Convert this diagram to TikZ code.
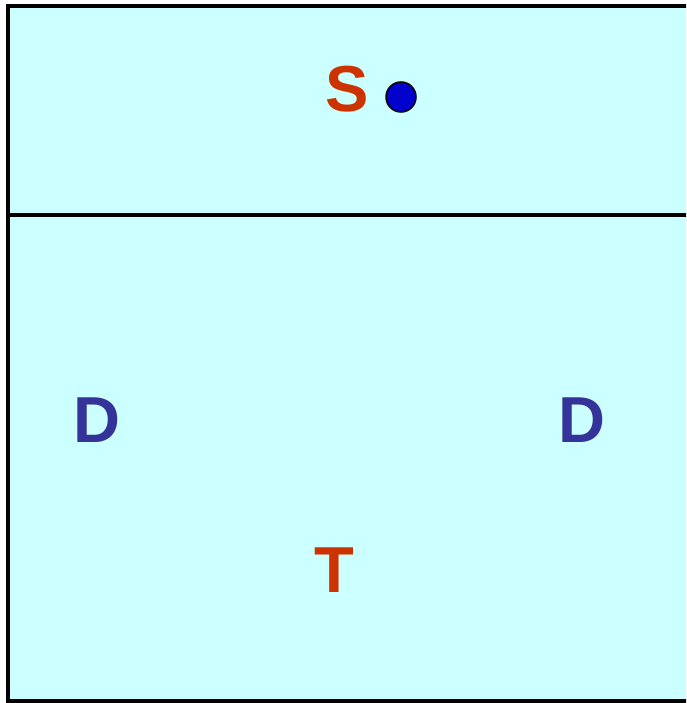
\documentclass[tikz,border=0pt]{standalone}
\usepackage{fontspec}
\setmainfont{Liberation Sans}
\definecolor{panel}{HTML}{CCFFFF}
\definecolor{redlabel}{HTML}{CC3300}
\definecolor{bluelabel}{HTML}{333399}
\definecolor{dotblue}{HTML}{0000CC}
\begin{document}
\begin{tikzpicture}[x=1pt,y=-1pt,
  lbl/.style={inner sep=0pt,anchor=base,font=\fontsize{65}{65}\selectfont\bfseries},
  frameline/.style={line width=4pt,draw=black}]
\useasboundingbox (0,0) rectangle (686,703);
\clip (0,0) rectangle (686,703);
\fill[white] (0,0) rectangle (686,703);
\fill[panel] (8,6) rectangle (690,701);
\draw[frameline] (690,6) -- (8,6) -- (8,701) -- (690,701);
\draw[frameline] (8,215) -- (690,215);
\node[lbl,text=redlabel] (s) at (347,112) {S};
\node[draw=black,line width=1.5pt,fill=dotblue,circle,minimum size=30pt,inner sep=0pt] (dot) at (401,97) {};
\node[lbl,text=bluelabel] (d1) at (97,442) {D};
\node[lbl,text=bluelabel] (d2) at (582,442) {D};
\node[lbl,text=redlabel] (t) at (334.5,592) {T};
\end{tikzpicture}
\end{document}
